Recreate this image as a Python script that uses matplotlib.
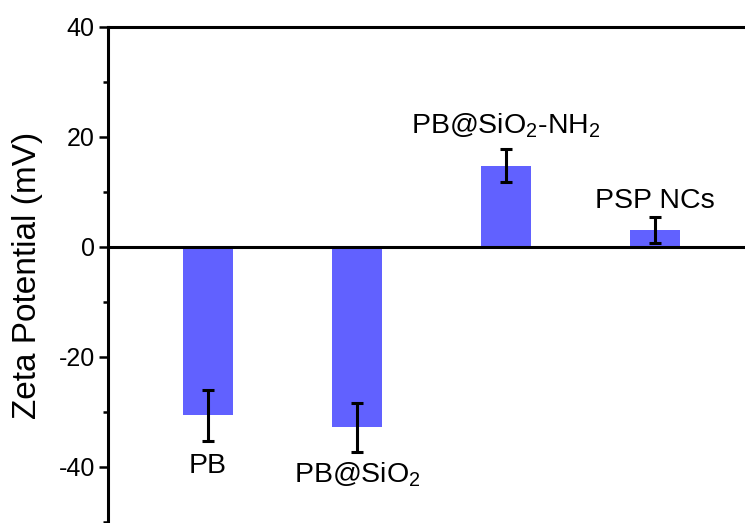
import matplotlib
matplotlib.use("Agg")
import matplotlib.pyplot as plt
from matplotlib.ticker import MultipleLocator

plt.rcParams['font.family'] = ['Liberation Sans', 'DejaVu Sans']
plt.rcParams['mathtext.fontset'] = 'custom'
plt.rcParams['mathtext.rm'] = 'Liberation Sans'
plt.rcParams['mathtext.it'] = 'Liberation Sans'
plt.rcParams['axes.unicode_minus'] = False

categories = ['PB', 'PB@SiO$_2$', 'PB@SiO$_2$-NH$_2$', 'PSP NCs']
values = [-30.6, -32.8, 14.8, 3.1]
errors = [4.6, 4.4, 3.0, 2.3]
label_y = [-41.1, -42.9, 20.7, 7.1]
yticks = [-40, -20, 0, 20, 40]

W, H = 745, 523
fig = plt.figure(figsize=(W / 100, H / 100), dpi=100)
left_px, top_px, bottom_px = 108, 27, 522
ax = fig.add_axes([left_px / W, 1 - bottom_px / H, 1.1 - left_px / W, (bottom_px - top_px) / H])

x = list(range(len(categories)))
bar_color = '#6161FF'
ax.bar(x, values, width=0.34, color=bar_color, zorder=2)
ax.errorbar(x, values, yerr=errors, fmt='none', ecolor='black', elinewidth=2.2,
            capsize=4.3, capthick=2.2, zorder=4)
ax.axhline(0, color='black', linewidth=2.2, zorder=3)

for xi, lab, ly in zip(x, categories, label_y):
    ax.text(xi, ly, lab, ha='center', va='baseline', fontsize=20.5)

ax.set_xlim(-0.671, -0.671 + (1.1 * W - left_px) / 149)
ax.set_ylim(-50, 40)
ax.set_yticks(yticks)
ax.yaxis.set_minor_locator(MultipleLocator(10))
ax.tick_params(axis='y', which='major', length=6.5, width=1.8, labelsize=18, pad=3, direction='out')
ax.tick_params(axis='y', which='minor', length=3.3, width=1.8, direction='out')
ax.set_xticks([])

for s in ['bottom', 'right']:
    ax.spines[s].set_visible(False)
for s in ['left', 'top']:
    ax.spines[s].set_linewidth(2.2)

ylab = ax.set_ylabel('Zeta Potential (mV)', fontsize=24)
ylab.set_va('center')
ax.yaxis.set_label_coords(28 / W, 1 - 275.5 / H, transform=fig.transFigure)

fig.savefig('out.png', dpi=100)
